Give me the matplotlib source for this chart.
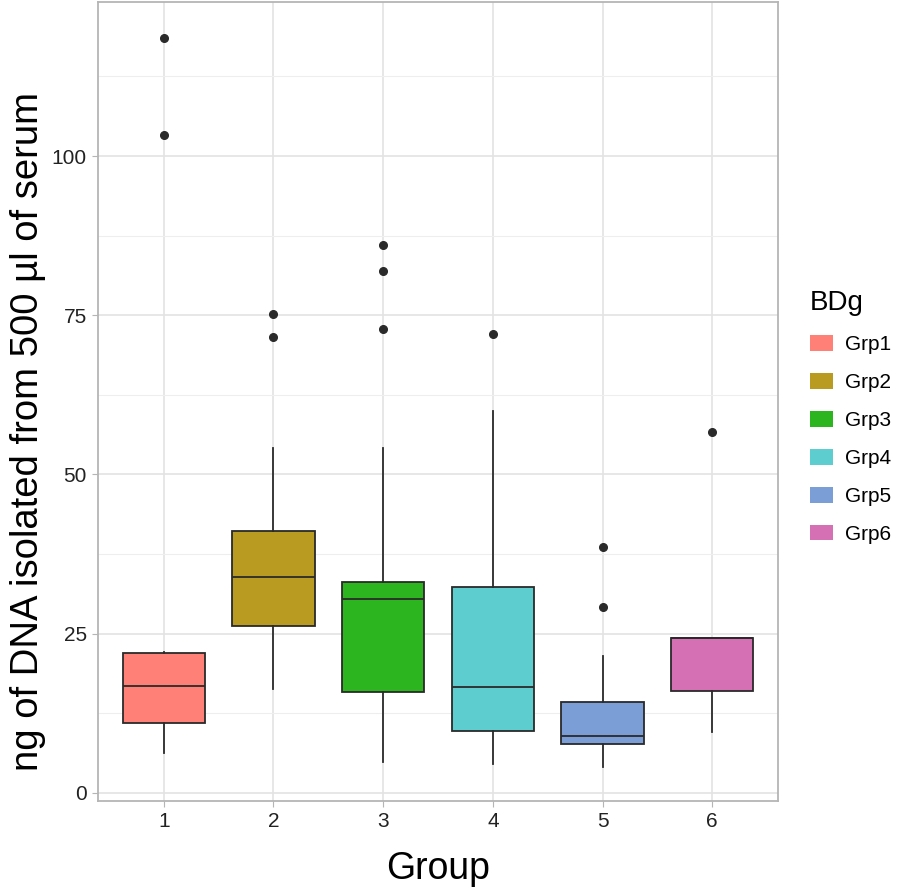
import matplotlib
matplotlib.use('Agg')
import matplotlib.pyplot as plt
from matplotlib.patches import Patch

plt.rcParams['font.family'] = ['Liberation Sans', 'DejaVu Sans']

# box stats
groups = ['1', '2', '3', '4', '5', '6']
labels = ['Grp1', 'Grp2', 'Grp3', 'Grp4', 'Grp5', 'Grp6']
whislo = [6.3, 16.3, 4.9, 4.5, 4.1, 9.6]
q1 = [11.0, 26.2, 15.8, 9.7, 7.7, 16.0]
med = [16.8, 33.9, 30.4, 16.6, 8.9, 24.3]
q3 = [21.9, 41.1, 33.1, 32.3, 14.3, 24.3]
whishi = [22.1, 54.1, 54.1, 60.0, 21.5, 24.3]
fliers = [[118.5, 103.3], [75.2, 71.6], [86.1, 82.0, 72.9], [72.1], [38.6, 29.2], [56.7]]
colors = ['#FF8077', '#B89B20', '#2CB51E', '#5DCDD0', '#7C9ED6', '#D670B5']

stats = []
for i in range(len(groups)):
    stats.append({'whislo': whislo[i], 'q1': q1[i], 'med': med[i], 'q3': q3[i],
                  'whishi': whishi[i], 'fliers': fliers[i]})

fig = plt.figure(figsize=(9.04, 8.88), dpi=100)
ax = fig.add_axes([98/904, 87/888, 680/904, 799/888])

ln = dict(color='#2a2a2a', linewidth=1.3)
bp = ax.bxp(stats, positions=range(1, 7), widths=0.75, patch_artist=True,
            showcaps=False, boxprops=ln, medianprops=ln, whiskerprops=ln,
            flierprops=dict(marker='o', markerfacecolor='#2a2a2a', markeredgecolor='#2a2a2a',
                            markersize=5.5), zorder=3)
for patch, c in zip(bp['boxes'], colors):
    patch.set_facecolor(c)

ax.set_xlim(0.4, 6.6)
ax.set_ylim(-1.3, 124.2)
ax.set_xticks(range(1, 7))
ax.set_xticklabels(groups)
ax.set_yticks([0, 25, 50, 75, 100])
ax.set_yticks([12.5, 37.5, 62.5, 87.5, 112.5], minor=True)
ax.set_xticks([], minor=True)
ax.grid(True, which='major', color='#e3e3e3', linewidth=1.2, zorder=0)
ax.grid(True, which='minor', axis='y', color='#eeeeee', linewidth=0.8, zorder=0)
ax.set_axisbelow(True)
for s in ax.spines.values():
    s.set_color('#b5b5b5')
    s.set_linewidth(1.3)
ax.tick_params(which='major', colors='#b5b5b5', labelcolor='#222222', labelsize=15, length=4, pad=4)
ax.tick_params(which='minor', length=0)

ax.set_xlabel('Group', fontsize=27, labelpad=14)
ax.set_ylabel('ng of DNA isolated from 500 µl of serum', fontsize=27.5)
ax.yaxis.set_label_coords(-0.077, 0.463)

handles = [Patch(facecolor=c, edgecolor='none') for c in colors]
leg = fig.legend(handles, labels, title='BDg', loc='upper left', bbox_to_anchor=(810/904, 1 - 290/888),
                 frameon=False, fontsize=15, title_fontsize=20, handlelength=1.1, handleheight=0.8,
                 labelspacing=0.9, handletextpad=0.6, borderpad=0, borderaxespad=0)
leg._legend_box.align = 'left'

fig.savefig('out.png', dpi=100)
